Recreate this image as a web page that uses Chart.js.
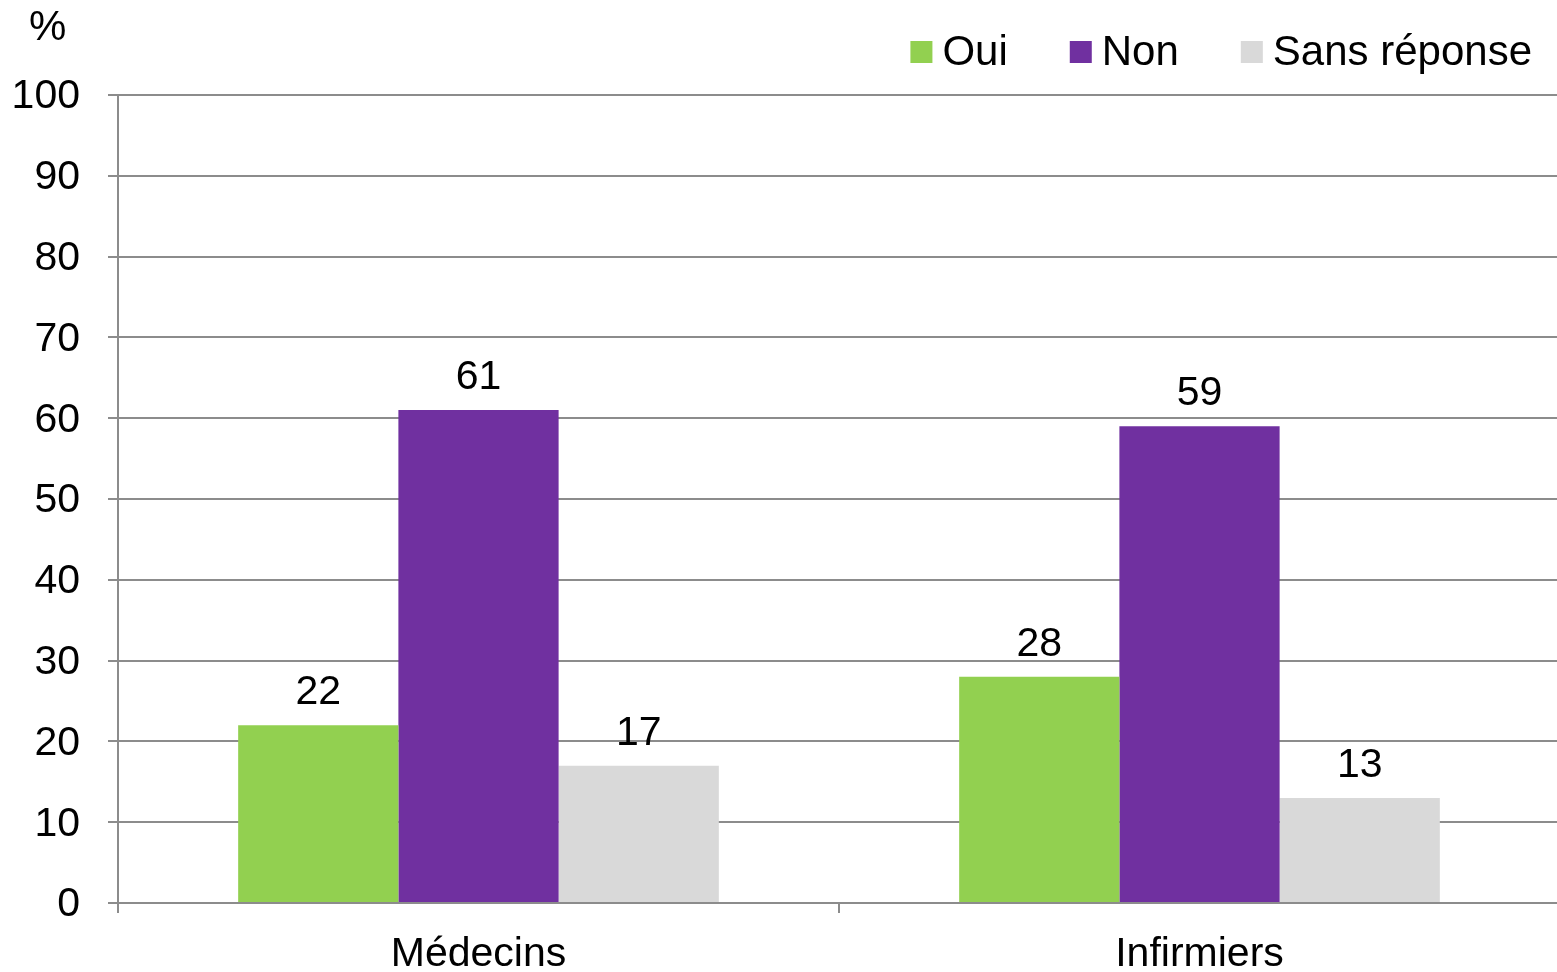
<!DOCTYPE html>
<html lang="fr">
<head>
<meta charset="utf-8">
<title>Oui / Non / Sans réponse</title>
<script src="https://cdn.jsdelivr.net/npm/chart.js@4/dist/chart.umd.min.js"></script>
<style>
  html, body { margin: 0; padding: 0; background: #ffffff; overflow: hidden; }
  #wrap { width: 1557px; height: 972px; overflow: hidden; }
</style>
</head>
<body>
<div id="wrap"><canvas id="chart" width="1560" height="972"></canvas></div>
<script>
// Data
const categories = ['Médecins', 'Infirmiers'];
const seriesNames = ['Oui', 'Non', 'Sans réponse'];
const oui = [22, 28];
const non = [61, 59];
const sansReponse = [17, 13];
const unitLabel = '%';
const yMin = 0;
const yMax = 100;
const yStep = 10;

const FONT = '"Liberation Sans", Arial, Helvetica, sans-serif';
const FONT_SIZE = 41;
const GRID = '#8c8c8c';
const colors = ['#92d050', '#7030a0', '#d9d9d9'];

// Value labels above each bar
const valueLabels = {
  id: 'valueLabels',
  afterDatasetsDraw(chart) {
    const ctx = chart.ctx;
    ctx.save();
    ctx.font = FONT_SIZE + 'px ' + FONT;
    ctx.fillStyle = '#000';
    ctx.textAlign = 'center';
    ctx.textBaseline = 'alphabetic';
    chart.data.datasets.forEach((ds, i) => {
      const meta = chart.getDatasetMeta(i);
      meta.data.forEach((bar, j) => {
        ctx.fillText(String(ds.data[j]), bar.x, bar.y - 21);
      });
    });
    ctx.restore();
  }
};

// Unit caption and legend across the top
const header = {
  id: 'header',
  afterDraw(chart) {
    const ctx = chart.ctx;
    ctx.save();
    ctx.font = '42px ' + FONT;
    ctx.fillStyle = '#000';
    ctx.textAlign = 'left';
    ctx.textBaseline = 'alphabetic';
    ctx.fillText(unitLabel, 29, 40);

    ctx.font = '42px ' + FONT;
    ctx.textBaseline = 'middle';
    const box = 22, gapText = 10, gapItem = 62;
    const items = chart.data.datasets.map(ds => ({
      label: ds.label, color: ds.backgroundColor,
      w: box + gapText + ctx.measureText(ds.label).width
    }));
    const total = items.reduce((s, it) => s + it.w, 0) + gapItem * (items.length - 1);
    let x = 1532 - total;
    const yMid = 52;
    items.forEach(it => {
      ctx.fillStyle = it.color;
      ctx.fillRect(x, yMid - box / 2, box, box);
      ctx.fillStyle = '#000';
      ctx.fillText(it.label, x + box + gapText, yMid + 1);
      x += it.w + gapItem;
    });
    ctx.restore();
  }
};

const datasets = [oui, non, sansReponse].map((values, i) => ({
  label: seriesNames[i],
  data: values,
  backgroundColor: colors[i],
  borderWidth: 0,
  categoryPercentage: 2 / 3,
  barPercentage: 1
}));

new Chart(document.getElementById('chart'), {
  type: 'bar',
  data: { labels: categories, datasets },
  options: {
    responsive: false,
    devicePixelRatio: 1,
    animation: false,
    layout: { padding: { top: 95, left: 0, right: 0, bottom: 0 } },
    plugins: {
      legend: { display: false },
      tooltip: { enabled: false }
    },
    scales: {
      x: {
        afterFit(scale) { scale.height = 69; },
        grid: {
          offset: true,
          drawOnChartArea: false,
          drawTicks: true,
          tickLength: 10,
          color: GRID,
          lineWidth: 2
        },
        border: { color: GRID, width: 2 },
        ticks: {
          color: '#000',
          font: { family: FONT, size: FONT_SIZE },
          padding: 17,
          maxRotation: 0
        }
      },
      y: {
        min: yMin,
        max: yMax,
        afterFit(scale) { scale.width = 118; },
        grid: {
          drawTicks: true,
          tickLength: 10,
          color: GRID,
          lineWidth: 2
        },
        border: { color: GRID, width: 2 },
        ticks: {
          stepSize: yStep,
          color: '#000',
          font: { family: FONT, size: FONT_SIZE },
          padding: 28,
          labelOffset: 2
        }
      }
    }
  },
  plugins: [valueLabels, header]
});
</script>
</body>
</html>
